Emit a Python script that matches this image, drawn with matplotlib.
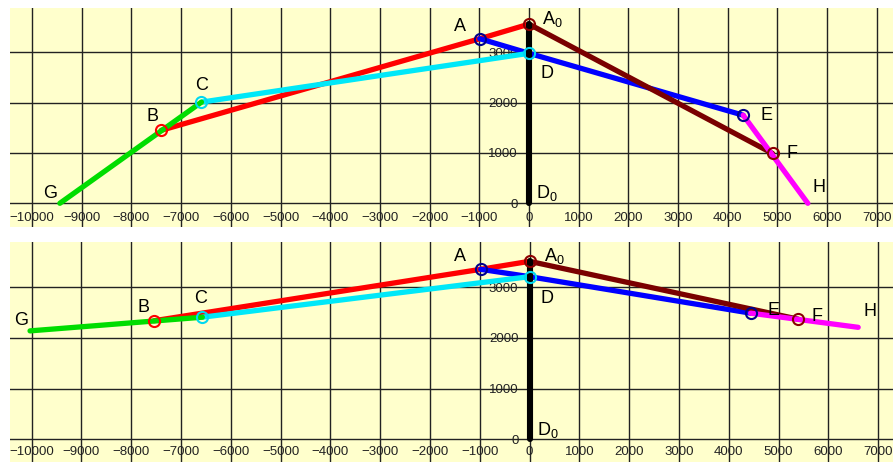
import matplotlib
matplotlib.use('Agg')
import matplotlib.pyplot as plt

plt.rcParams['font.family'] = ['Liberation Sans', 'DejaVu Sans']
plt.rcParams['mathtext.fontset'] = 'custom'
plt.rcParams['mathtext.rm'] = 'Liberation Sans'
plt.rcParams['mathtext.it'] = 'Liberation Sans:italic'

# 点的名称和坐标（上图 / 下图）
pt_names = ['A', 'A0', 'B', 'C', 'D', 'D0', 'E', 'F', 'G', 'H']
top_px = [-990, 0, -7400, -6590, 0, 0, 4310, 4900, -9440, 5610]
top_py = [3270, 3560, 1450, 2010, 2980, 0, 1750, 990, 0, 0]
bot_px = [-980, 0, -7540, -6570, 0, 0, 4440, 5400, -10030, 6600]
bot_py = [3355, 3513, 2340, 2410, 3210, 0, 2490, 2370, 2140, 2210]

# 线段（按名称连接）及其颜色
seg_pairs = [('B', 'A'), ('A', 'A0'), ('A', 'D'), ('D', 'E'), ('C', 'D'),
             ('G', 'C'), ('A0', 'F'), ('E', 'H'), ('D0', 'A0')]
seg_colors = ['#ff0000', '#ff0000', '#0000ff', '#0000ff', '#00e8f8',
              '#00dd00', '#7a0000', '#ff00ff', '#000000']

# 空心圆标记
circle_pts = ['A', 'A0', 'B', 'C', 'D', 'E', 'F']
circle_colors = ['#00008b', '#8b0000', '#ff0000', '#00d8f0', '#00d8f0', '#00008b', '#8b0000']

# 刻度
x_ticks = list(range(-10000, 8000, 1000))
y_ticks = [0, 1000, 2000, 3000]

# 标签文字和偏移（像素）
label_text = {'A': 'A', 'A0': 'A$_0$', 'B': 'B', 'C': 'C', 'D': 'D', 'D0': 'D$_0$',
              'E': 'E', 'F': 'F', 'G': 'G', 'H': 'H'}
top_offsets = {'A': (-20, 12), 'A0': (13, 5), 'B': (-9, 14), 'C': (0, 17), 'D': (18, -20),
               'D0': (7, 10), 'E': (23, 0), 'F': (19, 0), 'G': (-10, 10), 'H': (11, 16)}
bot_offsets = {'A': (-21, 13), 'A0': (14, 5), 'B': (-11, 13), 'C': (-2, 19), 'D': (17, -22),
               'D0': (7, 9), 'E': (23, 3), 'F': (19, 3), 'G': (-9, 10), 'H': (12, 16)}


def draw_panel(ax, px, py, offsets, xlim, ylim, xpad):
    pos = {n: (x, y) for n, x, y in zip(pt_names, px, py)}
    ax.set_facecolor('#ffffcc')
    ax.set_xlim(*xlim)
    ax.set_ylim(*ylim)
    ax.set_axisbelow(True)
    ax.set_xticks(x_ticks)
    ax.set_yticks(y_ticks)
    ax.grid(True, color='#222222', lw=1)
    for side in ['top', 'right']:
        ax.spines[side].set_visible(False)
    ax.spines['left'].set_position(('data', 0))
    ax.spines['bottom'].set_position(('data', 0))
    ax.spines['left'].set_color('none')
    ax.spines['bottom'].set_color('none')
    ax.tick_params(axis='x', length=0, pad=xpad, labelsize=9.5, labelcolor='#222222')
    ax.tick_params(axis='y', length=0, pad=8, labelsize=9.5, labelcolor='#222222')
    # 画线段
    for (p, q), c in zip(seg_pairs, seg_colors):
        lw = 4.4 if c == '#000000' else 3.8
        ax.plot([pos[p][0], pos[q][0]], [pos[p][1], pos[q][1]], color=c, lw=lw,
                solid_capstyle='round', zorder=2)
    # 画圆圈
    for n, c in zip(circle_pts, circle_colors):
        ax.plot(pos[n][0], pos[n][1], 'o', ms=8, mfc='none', mec=c, mew=1.5, zorder=3)
    # 标注字母
    for n in pt_names:
        dx, dy = offsets[n]
        ha = 'left' if n in ('A0', 'D0') else 'center'
        ax.annotate(label_text[n], pos[n], xytext=(dx, dy), textcoords='offset pixels',
                    ha=ha, va='center', fontsize=13, color='black', zorder=4)


fig = plt.figure(figsize=(8.93, 4.62), dpi=100)
ax1 = fig.add_axes([10 / 893, (462 - 227) / 462, 883 / 893, 219 / 462])
ax2 = fig.add_axes([10 / 893, 0, 883 / 893, 220.5 / 462])

draw_panel(ax1, top_px, top_py, top_offsets, (-10443, 7324), (-471, 3880), 6.5)
draw_panel(ax2, bot_px, bot_py, bot_offsets, (-10432, 7299), (-448, 3904), 5)

plt.savefig('out.png', dpi=100)
plt.close()
